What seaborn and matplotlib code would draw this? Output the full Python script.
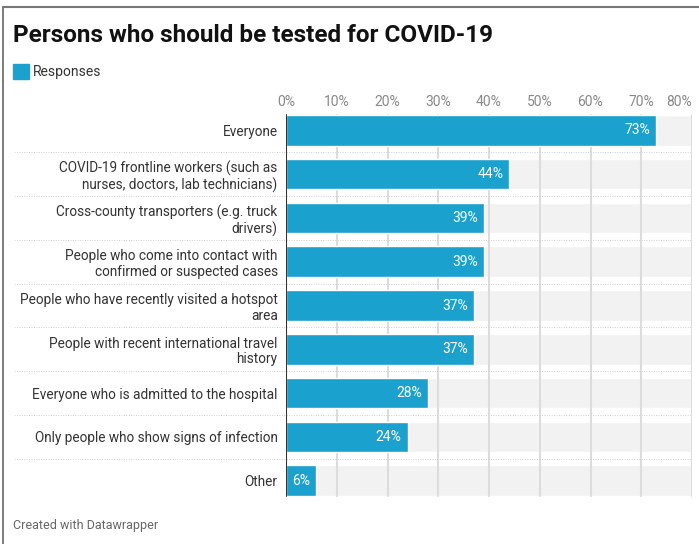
import pandas as pd
import matplotlib.pyplot as plt
from matplotlib.lines import Line2D
import seaborn as sns

# data
categories = [
    'Everyone',
    'COVID-19 frontline workers (such as\nnurses, doctors, lab technicians)',
    'Cross-county transporters (e.g. truck\ndrivers)',
    'People who come into contact with\nconfirmed or suspected cases',
    'People who have recently visited a hotspot\narea',
    'People with recent international travel\nhistory',
    'Everyone who is admitted to the hospital',
    'Only people who show signs of infection',
    'Other',
]
responses = [73, 44, 39, 39, 37, 37, 28, 24, 6]
x_ticks = [0, 10, 20, 30, 40, 50, 60, 70, 80]
x_max = 80

df = pd.DataFrame({'category': categories, 'value': responses})
df['full'] = x_max

sns.set_style('white')
plt.rcParams['font.family'] = ['Roboto', 'DejaVu Sans']

blue = '#1aa1cd'
fig = plt.figure(figsize=(6.99, 5.44), dpi=100)
ax = fig.add_axes([286 / 699, 1 - 502.5 / 544, 406 / 699, 394 / 544])

# grey track behind each bar
sns.barplot(data=df, y='category', x='full', color='#f2f2f2', width=0.7,
            saturation=1, ax=ax, zorder=0.5)
sns.barplot(data=df, y='category', x='value', color=blue, width=0.7,
            saturation=1, ax=ax, zorder=2)

n = len(categories)
ax.set_xlim(0, x_max)
ax.set_ylim(n - 0.5, -0.5)

# vertical gridlines, only over the rows
edge = 0.15 / n
for t in x_ticks[1:]:
    ax.axvline(t, ymin=edge, ymax=1 - edge, color='#dcdcdc', lw=1.5, zorder=1)
ax.axvline(0, ymin=edge, ymax=1 - edge, color='#333333', lw=1.5, zorder=3)

# dotted row separators, reaching into the label area
for i in range(n - 1):
    ax.axhline(i + 0.5, xmin=-(286 - 14) / 406, xmax=1.0, color='#d0d0d0',
               lw=0.7, ls=(0, (1, 1.5)), clip_on=False, zorder=1)

# value labels inside the bars
for i, v in enumerate(responses):
    ax.text(v - 1.2, i, f'{v}%', color='white', ha='right', va='center',
            fontsize=10, zorder=4)

ax.xaxis.tick_top()
ax.set_xticks(x_ticks)
ax.set_xticklabels([f'{t}%' for t in x_ticks], color='#888888', fontsize=10)
ax.get_xticklabels()[-1].set_ha('right')
ax.get_xticklabels()[-1].set_x(x_max + 0.3)
ax.tick_params(axis='x', length=0, pad=0)
ax.tick_params(axis='y', length=0, pad=6)
ax.set_yticks(range(n))
ax.set_yticklabels(categories, color='#333333', fontsize=9.8, linespacing=1.15)
ax.set_xlabel('')
ax.set_ylabel('')
for s in ax.spines.values():
    s.set_visible(False)

fig.text(13 / 699, 1 - 36 / 544, 'Persons who should be tested for COVID-19',
         fontsize=17.5, fontweight='bold', color='#111111', va='center')
fig.patches.append(plt.Rectangle((13 / 699, 1 - 79 / 544), 16 / 699, 15 / 544,
                                 transform=fig.transFigure, color=blue))
fig.text(33 / 699, 1 - 72 / 544, 'Responses', fontsize=10, color='#333333',
         va='center')
fig.text(13 / 699, 1 - 525 / 544, 'Created with Datawrapper', fontsize=9,
         color='#666666', va='center')

# frame of the screenshot
fig.add_artist(Line2D([2.5 / 699, 2.5 / 699], [0, 1 - 7 / 544], color='#666666',
                      lw=1.2, transform=fig.transFigure))
fig.add_artist(Line2D([2.5 / 699, 1], [1 - 7 / 544, 1 - 7 / 544], color='#777777',
                      lw=1.5, transform=fig.transFigure))

fig.savefig('out.png', dpi=100)
